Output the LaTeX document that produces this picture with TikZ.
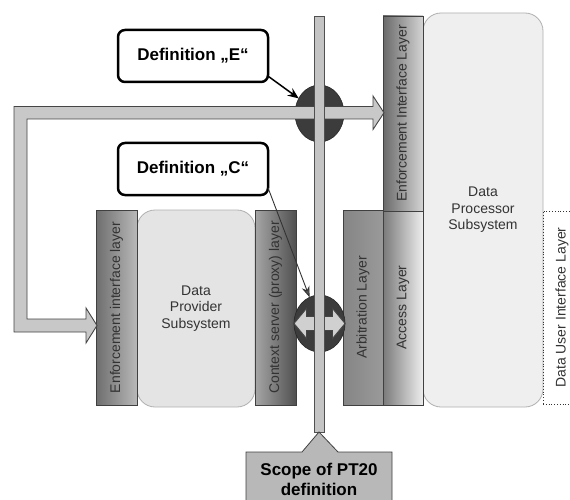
\documentclass[tikz,border=0pt]{standalone}
\usepackage{fontspec}
\setmainfont{Liberation Sans}
\usetikzlibrary{arrows.meta,shapes.geometric}

\definecolor{inkgray}{HTML}{333333}
\definecolor{edgegray}{HTML}{404040}
\definecolor{subedge}{HTML}{B0B0B0}
\definecolor{provfill}{HTML}{E4E4E4}
\definecolor{procfill}{HTML}{EFEFEF}
\definecolor{eilA}{HTML}{6E6E6E}
\definecolor{eilB}{HTML}{B8B8B8}
\definecolor{ctxA}{HTML}{A6A6A6}
\definecolor{ctxB}{HTML}{505050}
\definecolor{arbA}{HTML}{858585}
\definecolor{arbB}{HTML}{9A9A9A}
\definecolor{accA}{HTML}{7A7A7A}
\definecolor{accB}{HTML}{EEEEEE}
\definecolor{eipA}{HTML}{6A6A6A}
\definecolor{eipB}{HTML}{D4D4D4}
\definecolor{hubgray}{HTML}{3C3C3C}
\definecolor{arrowedge}{HTML}{454545}
\definecolor{arrowfill}{HTML}{C8C8C8}
\definecolor{arrowlight}{HTML}{D0D0D0}
\definecolor{bargray}{HTML}{505050}
\definecolor{barfill}{HTML}{C4C4C4}
\definecolor{scopefill}{HTML}{B8B8B8}
\definecolor{tipgray}{HTML}{555555}

\begin{document}
\begin{tikzpicture}[x=1pt,y=-1pt,
  every node/.style={inner sep=0pt,outer sep=0pt},
  layertext/.style={font=\fontsize{14}{16.5}\selectfont, text=inkgray},
  vtext/.style={layertext, rotate=90},
  layerbox/.style={draw=edgegray, line width=0.8pt, minimum width=40, minimum height=195},
  subsys/.style={layertext, draw=subedge, line width=0.8pt, rounded corners=18, align=center},
  defbox/.style={draw=black, line width=2.5pt, rounded corners=7, fill=white,
    minimum width=150, minimum height=52, font=\fontsize{17}{20}\selectfont\bfseries},
  hub/.style={ellipse, draw=black!85, fill=hubgray, line width=0.6pt},
  blockarrow/.style={draw=arrowedge, fill=arrowfill, line width=0.9pt, line join=miter},
  boldlabel/.style={font=\fontsize{17}{20}\selectfont\bfseries, align=center},
]
\useasboundingbox (0,0) rectangle (570,500);
\clip (0,0) rectangle (570,500);

% subsystems
\node[subsys, fill=provfill, minimum width=118, minimum height=197] (prov) at (196,308.5)
  {Data\\Provider\\Subsystem};
\node[subsys, fill=procfill, minimum width=120, minimum height=394] (proc) at (483,210)
  {Data\\Processor\\Subsystem};

% layer bars, shaded from left to right, with upright-reading labels
\node[layerbox, minimum width=41, left color=eilA, right color=eilB] (eilProv) at (116.5,307.5) {};
\node[vtext] (eilProvText) at (eilProv) {Enforcement interface layer};
\node[layerbox, minimum width=41, left color=ctxA, right color=ctxB] (ctx) at (275.5,307.5) {};
\node[vtext] (ctxText) at (ctx) {Context server (proxy) layer};
\node[layerbox, left color=arbA, right color=arbB] (arb) at (363,307.5) {};
\node[vtext] (arbText) at (arb) {Arbitration Layer};
\node[layerbox, left color=accA, right color=accB] (acc) at (403,307.5) {};
\node[vtext] (accText) at (acc) {Access Layer};
\node[layerbox, left color=eipA, right color=eipB] (eilProc) at (403,113.5) {};
\node[vtext] (eilProcText) at (eilProc) {Enforcement Interface Layer};
\node[draw=inkgray, dotted, line width=0.8pt, minimum width=40, minimum height=193]
  (dui) at (563,307.5) {};
\node[vtext] (duiText) at (562,307.5) {Data User Interface Layer};

% definition boxes
\node[defbox] (defE) at (193,56) {Definition „E“};
\node[defbox] (defC) at (193,169) {Definition „C“};

% hubs on the scope bar
\node[hub, minimum width=49, minimum height=57] (hubE) at (319.5,113.5) {};
\node[hub, minimum width=51, minimum height=57] (hubC) at (319.5,323.5) {};

% loop arrow between the two enforcement layers
\draw[blockarrow] (373,106.5) -- (373,96) -- (384,112.75) -- (373,129.5) -- (373,119)
  -- (27,119) -- (27,319) -- (86,319) -- (86,308) -- (97,325.5) -- (86,343) -- (86,332)
  -- (14,332) -- (14,106.5) -- cycle;

% double arrow inside hub C
\begin{scope}[shift={(hubC.center)}]
  \draw[blockarrow, fill=arrowlight] (-25.5,0) -- (-13,-15) -- (-13,-7) -- (13,-7) -- (13,-15)
    -- (25.5,0) -- (13,15) -- (13,7) -- (-13,7) -- (-13,15) -- cycle;
\end{scope}

% pointers from the definitions
\draw[line width=1.5pt, -{Stealth[length=11pt,width=9pt]}] (defE.-15) -- (hubE);
\draw[line width=0.9pt, draw=inkgray, -{Stealth[length=11pt,width=8pt,fill=tipgray]}]
  (defC.-14) -- (hubC);

% scope bar and its callout
\node[draw=bargray, fill=barfill, line width=0.8pt, minimum width=10, minimum height=416]
  (bar) at (319,224) {};
\draw[draw=edgegray, fill=scopefill, line width=0.8pt] (bar.south) -- (338,452) -- (392,452)
  -- (392,505) -- (246,505) -- (246,452) -- (302,452) -- cycle;
\node[boldlabel] (scope) at (319,479) {Scope of PT20\\definition};
\end{tikzpicture}
\end{document}
